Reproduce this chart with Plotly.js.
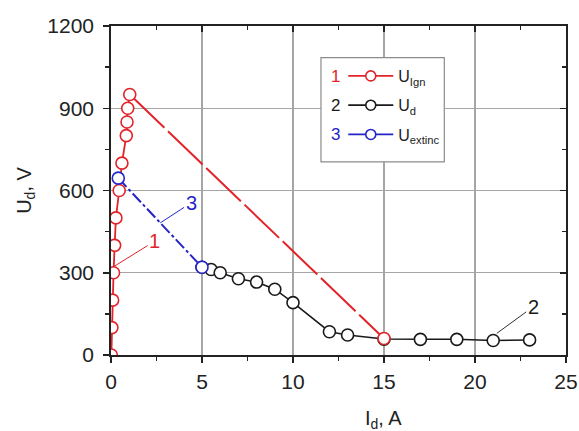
<!DOCTYPE html>
<html>
<head>
<meta charset="utf-8">
<script src="https://cdn.plot.ly/plotly-3.0.1.min.js"></script>
<style>html,body{margin:0;padding:0;background:#fff;}#chart{width:579px;height:431px;}</style>
</head>
<body>
<div id="chart"></div>
<script>
// Series 1: ignition voltage U_Ign (red)
const ignX = [0.02, 0.05, 0.09, 0.14, 0.2, 0.27, 0.45, 0.6, 0.84, 0.88, 0.92, 1.03];
const ignY = [0, 100, 200, 300, 400, 500, 600, 700, 800, 850, 900, 950];
// Red dashed transition from last ignition point to the operating point
const ignJumpX = [1.03, 15];
const ignJumpY = [950, 60];
// Series 2: discharge voltage U_d (black)
const udX = [5, 5.5, 6, 7, 8, 9, 10, 12, 13, 15, 17, 19, 21, 23];
const udY = [320, 312, 300, 278, 266, 240, 191, 85, 73, 58, 57, 57, 53, 55];
// Series 3: extinction voltage U_extinc (blue)
const extX = [0.4, 5];
const extY = [645, 320];
// Axis ticks
const xTicks = [0, 5, 10, 15, 20, 25];
const yTicks = [0, 300, 600, 900, 1200];
// Legend labels
const legendNames = ['U<sub>Ign</sub>', 'U<sub>d</sub>', 'U<sub>extinc</sub>'];
const legendNums = ['1', '2', '3'];

const RED = 'rgb(226,36,42)';
const BLUE = 'rgb(36,36,200)';
const BLACK = 'rgb(25,25,25)';
const COLORS = [RED, BLACK, BLUE];
const FONT = 'Liberation Sans, Arial, sans-serif';

const mk = (c, s) => ({symbol: 'circle', size: s || 12, color: '#ffffff', line: {color: c, width: 1.6}});

const traces = [
  {x: udX, y: udY, mode: 'lines+markers', line: {color: BLACK, width: 1.5}, marker: mk(BLACK), showlegend: false},
  {x: ignJumpX, y: ignJumpY, mode: 'lines', line: {color: RED, width: 2, dash: '48px,5px'},
   showlegend: false, hoverinfo: 'skip'},
  {x: [ignJumpX[1]], y: [ignJumpY[1]], mode: 'markers', marker: mk(RED), showlegend: false},
  {x: ignX, y: ignY, mode: 'lines+markers', line: {color: RED, width: 1.8}, marker: mk(RED), showlegend: false},
  {x: extX, y: extY, mode: 'lines+markers', line: {color: BLUE, width: 2, dash: '12px,3px,3px,3px'},
   marker: mk(BLUE), showlegend: false},
  {x: [null], y: [null], xaxis: 'x2', yaxis: 'y', showlegend: false, hoverinfo: 'skip'},
  {x: [null], y: [null], xaxis: 'x', yaxis: 'y2', showlegend: false, hoverinfo: 'skip'}
];
// legend entries (solid line + open circle, as in the reference key)
const legendIds = ['legend', 'legend2', 'legend3'];
legendNames.forEach((n, i) => {
  traces.push({x: [null], y: [null], mode: 'lines+markers', name: n, legend: legendIds[i],
    line: {color: COLORS[i], width: 1.8}, marker: mk(COLORS[i], 10), showlegend: true});
});

const axisCommon = {
  showline: true, linecolor: '#222', linewidth: 1.8, zeroline: false,
  tickcolor: '#222', tickwidth: 1.5, ticklen: 6,
  tickfont: {family: FONT, size: 21, color: '#222'}
};

// three single-row legends so each row can sit exactly where the reference has it
const legendBase = (y) => ({
  x: 0.5105, xanchor: 'left', y: y, yanchor: 'middle',
  bgcolor: 'rgba(0,0,0,0)', borderwidth: 0, itemwidth: 45,
  font: {family: FONT, size: 16, color: '#222'}
});
const ROWS = [0.848, 0.759, 0.670];

const annotations = [
  {xref: 'paper', yref: 'paper', x: 0.598, y: -0.197, xanchor: 'center', yanchor: 'middle',
   text: 'I<sub>d</sub>, A', showarrow: false, font: {family: FONT, size: 20, color: '#222'}},
  // curve labels with leaders
  {xref: 'x', yref: 'y', axref: 'x', ayref: 'y', x: 0.14, y: 322, ax: 2.4, ay: 415, text: '1',
   showarrow: true, arrowhead: 0, arrowwidth: 1, arrowcolor: RED, standoff: 0,
   font: {family: FONT, size: 20, color: RED}},
  {xref: 'x', yref: 'y', axref: 'x', ayref: 'y', x: 2.71, y: 482, ax: 4.4, ay: 555, text: '3',
   showarrow: true, arrowhead: 0, arrowwidth: 1, arrowcolor: BLUE, standoff: 0,
   font: {family: FONT, size: 20, color: BLUE}},
  {xref: 'x', yref: 'y', axref: 'x', ayref: 'y', x: 21.2, y: 79, ax: 23.2, ay: 176, text: '2',
   showarrow: true, arrowhead: 0, arrowwidth: 1, arrowcolor: '#333', standoff: 0,
   font: {family: FONT, size: 20, color: BLACK}}
];
legendNums.forEach((t, i) => {
  annotations.push({xref: 'paper', yref: 'paper', x: 0.493, y: ROWS[i], xanchor: 'center', yanchor: 'middle',
    text: t, showarrow: false, font: {family: FONT, size: 17, color: COLORS[i]}});
});

const layout = {
  width: 579, height: 431,
  margin: {l: 111, r: 13, t: 26, b: 76, pad: 0},
  paper_bgcolor: '#ffffff', plot_bgcolor: '#ffffff',
  font: {family: FONT, color: '#222'},
  showlegend: true,
  legend: legendBase(ROWS[0]),
  legend2: legendBase(ROWS[1]),
  legend3: legendBase(ROWS[2]),
  xaxis: Object.assign({}, axisCommon, {
    range: [0, 25], tickvals: xTicks, ticks: 'outside',
    showgrid: true, gridcolor: '#a6a6a6', gridwidth: 1.4,
    minor: {dtick: 2.5, tick0: 0, ticks: 'outside', ticklen: 4, tickcolor: '#222', tickwidth: 1.5, showgrid: false},
    ticklabelstandoff: 1
  }),
  yaxis: Object.assign({}, axisCommon, {
    range: [0, 1200], tickvals: yTicks, ticks: 'outside',
    showgrid: true, gridcolor: '#a6a6a6', gridwidth: 1.4,
    minor: {dtick: 150, tick0: 0, ticks: 'outside', ticklen: 4, tickcolor: '#222', tickwidth: 1.5, showgrid: false},
    ticklabelstandoff: 5,
    title: {text: 'U<sub>d</sub>, V', font: {family: FONT, size: 20, color: '#222'}, standoff: 10}
  }),
  xaxis2: Object.assign({}, axisCommon, {
    overlaying: 'x', side: 'top', anchor: 'y', range: [0, 25], tickvals: xTicks,
    ticks: 'inside', showticklabels: false, showgrid: false,
    minor: {dtick: 2.5, tick0: 0, ticks: 'inside', ticklen: 4, tickcolor: '#222', tickwidth: 1.5, showgrid: false}
  }),
  yaxis2: Object.assign({}, axisCommon, {
    overlaying: 'y', side: 'right', anchor: 'x', range: [0, 1200], tickvals: yTicks,
    ticks: 'inside', showticklabels: false, showgrid: false,
    minor: {dtick: 150, tick0: 0, ticks: 'inside', ticklen: 4, tickcolor: '#222', tickwidth: 1.5, showgrid: false}
  }),
  shapes: [
    {type: 'rect', xref: 'paper', yref: 'paper', x0: 0.4615, x1: 0.7325, y0: 0.587, y1: 0.904,
     fillcolor: '#ffffff', line: {color: '#8c8c8c', width: 1.2}, layer: 'above'}
  ],
  annotations: annotations
};

Plotly.newPlot('chart', traces, layout, {staticPlot: true, displayModeBar: false});
</script>
</body>
</html>
